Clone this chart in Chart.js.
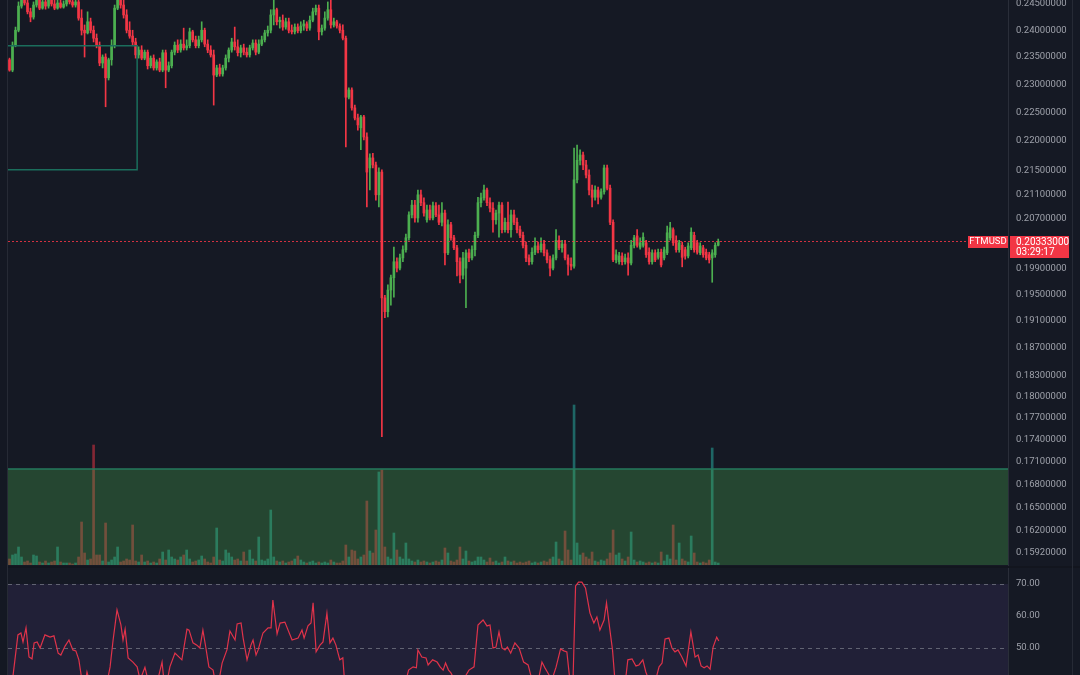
<!DOCTYPE html>
<html><head><meta charset="utf-8">
<script src="https://cdn.jsdelivr.net/npm/chart.js@4.4.1/dist/chart.umd.min.js"></script>
<style>
html,body{margin:0;padding:0;background:#151924;width:1080px;height:675px;overflow:hidden;font-family:Roboto,sans-serif;}
#main{position:absolute;left:0;top:0;width:1080px;height:566px;}
#rsi{position:absolute;left:0;top:568px;width:1080px;height:107px;}
.sep{position:absolute;left:0;top:566px;width:1080px;height:2px;background:#12151e;}
.lstrip{position:absolute;left:0;top:0;width:7px;height:675px;background:#141823;border-right:1px solid #262a35;}
.rline{position:absolute;left:1072px;top:0;width:1px;height:675px;background:#262a35;}
</style></head><body>
<div id="main"><canvas id="c1"></canvas></div>
<div class="sep"></div>
<div id="rsi"><canvas id="c2"></canvas></div>
<div class="lstrip"></div>
<div class="rline"></div>
<script>
// ---- data ----
const symbol = 'FTMUSD';
const lastPrice = 0.20333;
const countdown = '03:29:17';
const priceTicks = [0.245,0.24,0.235,0.23,0.225,0.22,0.215,0.211,0.207,0.199,0.195,0.191,0.187,0.183,0.18,0.177,0.174,0.171,0.168,0.165,0.162,0.1592];
const rsiTicks = [70,60,50];
const priceMin = 0.15769, priceMax = 0.24577;
const volumeMax = 565, volumeZoneTop = 96;
const boxStart = -0.5, boxEnd = 42.5, boxHigh = 0.2371, boxLow = 0.2151;
const rsiMin = 41.5625, rsiMax = 75, rsiUpper = 70, rsiMid = 50, rsiLower = 30;
const slotCount = 333;

const opens = [.2345,.2326,.2372,.2400,.2446,.2458,.2452,.2435,.2425,.2448,
.2462,.2442,.2454,.2446,.2464,.2450,.2442,.2452,.2444,.2450,
.2466,.2454,.2448,.2454,.2423,.2400,.2395,.2416,.2400,.2385,
.2372,.2339,.2350,.2312,.2345,.2372,.2442,.2458,.2448,.2429,
.2400,.2389,.2378,.2354,.2363,.2348,.2359,.2334,.2348,.2330,
.2341,.2326,.2358,.2326,.2334,.2359,.2372,.2363,.2374,.2367,
.2371,.2397,.2382,.2371,.2382,.2400,.2374,.2363,.2354,.2317,
.2330,.2319,.2330,.2348,.2363,.2378,.2369,.2358,.2367,.2359,
.2354,.2367,.2376,.2359,.2374,.2382,.2395,.2400,.2429,.2439,
.2416,.2419,.2406,.2416,.2400,.2397,.2406,.2399,.2408,.2412,
.2404,.2419,.2435,.2442,.2397,.2404,.2423,.2439,.2410,.2416,
.2408,.2400,.2385,.2277,.2290,.2258,.2240,.2223,.2242,.2207,
.2154,.2171,.2159,.2109,.2147,.1945,.1924,.1957,.1976,.2001,
.1991,.2007,.2020,.2039,.2076,.2092,.2071,.2109,.2096,.2068,
.2084,.2071,.2091,.2076,.2064,.2079,.2015,.2060,.2039,.2023,
.2001,.1980,.1991,.2015,.2007,.2020,.2043,.2096,.2104,.2117,
.2096,.2087,.2068,.2079,.2092,.2052,.2064,.2052,.2076,.2064,
.2052,.2043,.2027,.2007,.2001,.2016,.2026,.2020,.2029,.2015,
.2004,.1991,.2007,.2035,.2023,.2029,.2007,.1997,.1994,.2134,
.2167,.2176,.2159,.2142,.2117,.2105,.2117,.2105,.2114,.2154,
.2120,.2064,.2004,.2001,.2010,.2001,.2007,.1999,.2027,.2042,
.2024,.2027,.2031,.2016,.2001,.2015,.2008,.2016,.2007,.2015,
.2039,.2052,.2035,.2020,.2027,.2020,.2010,.2023,.2043,.2031,
.2015,.2023,.2016,.2012,.2007,.2012,.2027];

const highs = [.2348,.2378,.2406,.2454,.2467,.2469,.2462,.2442,.2454,.2473,
.2469,.2464,.2466,.2473,.2473,.2458,.2458,.2458,.2456,.2473,
.2473,.2462,.2462,.2458,.2439,.2410,.2435,.2423,.2408,.2393,
.2378,.2354,.2356,.2348,.2382,.2448,.2469,.2469,.2462,.2439,
.2416,.2400,.2385,.2369,.2371,.2363,.2363,.2352,.2354,.2345,
.2348,.2363,.2363,.2341,.2363,.2378,.2382,.2382,.2404,.2382,
.2404,.2400,.2389,.2389,.2416,.2404,.2382,.2371,.2363,.2335,
.2337,.2335,.2354,.2367,.2385,.2406,.2382,.2372,.2374,.2367,
.2372,.2382,.2382,.2382,.2389,.2400,.2408,.2439,.2458,.2442,
.2425,.2429,.2423,.2423,.2410,.2412,.2412,.2416,.2419,.2416,
.2427,.2442,.2448,.2448,.2410,.2435,.2454,.2458,.2423,.2419,
.2412,.2410,.2389,.2294,.2294,.2263,.2247,.2245,.2245,.2214,
.2178,.2179,.2164,.2154,.2151,.1949,.1965,.1980,.2024,.2007,
.2013,.2026,.2045,.2081,.2100,.2100,.2117,.2117,.2104,.2092,
.2092,.2097,.2096,.2092,.2096,.2084,.2068,.2064,.2043,.2027,
.2007,.2016,.2020,.2021,.2026,.2048,.2105,.2112,.2125,.2120,
.2104,.2096,.2084,.2097,.2096,.2071,.2097,.2084,.2084,.2071,
.2058,.2048,.2032,.2012,.2023,.2039,.2032,.2039,.2035,.2020,
.2010,.2012,.2052,.2042,.2035,.2035,.2012,.2007,.2188,.2193,
.2185,.2181,.2167,.2151,.2125,.2124,.2122,.2119,.2159,.2159,
.2125,.2068,.2020,.2016,.2015,.2013,.2015,.2035,.2043,.2052,
.2039,.2047,.2035,.2023,.2020,.2020,.2021,.2021,.2024,.2058,
.2064,.2055,.2042,.2035,.2032,.2024,.2031,.2055,.2048,.2035,
.2031,.2027,.2021,.2016,.2020,.2031,.2037];

const lows = [.2324,.2323,.2369,.2397,.2442,.2448,.2431,.2416,.2421,.2444,
.2439,.2440,.2440,.2442,.2446,.2439,.2440,.2442,.2442,.2446,
.2450,.2444,.2444,.2419,.2391,.2350,.2393,.2395,.2378,.2367,
.2334,.2330,.2260,.2308,.2335,.2367,.2439,.2442,.2423,.2395,
.2385,.2372,.2348,.2348,.2345,.2345,.2328,.2330,.2326,.2326,
.2323,.2323,.2294,.2323,.2330,.2354,.2358,.2359,.2363,.2363,
.2367,.2378,.2367,.2367,.2378,.2369,.2358,.2350,.2263,.2314,
.2315,.2315,.2326,.2341,.2359,.2363,.2352,.2350,.2354,.2350,
.2350,.2363,.2354,.2356,.2371,.2378,.2389,.2395,.2410,.2410,
.2404,.2400,.2402,.2395,.2393,.2393,.2395,.2395,.2400,.2399,
.2400,.2416,.2429,.2382,.2391,.2400,.2419,.2404,.2406,.2404,
.2395,.2382,.2190,.2274,.2254,.2237,.2219,.2185,.2202,.2089,
.2117,.2154,.2100,.2089,.1744,.1915,.1916,.1934,.1946,.1985,
.1988,.2001,.2016,.2035,.2071,.2064,.2064,.2091,.2074,.2064,
.2068,.2068,.2073,.2060,.2058,.1996,.2012,.2035,.2020,.1979,
.1968,.1974,.1930,.2001,.2004,.2010,.2039,.2089,.2100,.2091,
.2081,.2048,.2061,.2040,.2047,.2048,.2047,.2040,.2060,.2047,
.2039,.2023,.2001,.1996,.1997,.2012,.2015,.2016,.2010,.1999,
.1979,.1988,.2004,.2020,.2016,.2004,.1980,.1988,.1991,.2129,
.2159,.2151,.2137,.2109,.2089,.2100,.2094,.2102,.2110,.2117,
.2060,.2001,.1999,.1997,.1996,.1997,.1980,.1996,.2023,.2024,
.2021,.2024,.2008,.1997,.1997,.2001,.2005,.1993,.2004,.2012,
.2035,.2027,.2016,.2016,.1993,.2005,.2007,.2020,.2016,.2013,
.2012,.2008,.2004,.1999,.1969,.2008,.2026];

const closes = [.2326,.2372,.2400,.2446,.2458,.2452,.2435,.2425,.2448,.2462,
.2442,.2454,.2446,.2464,.2450,.2442,.2452,.2444,.2450,.2466,
.2454,.2448,.2454,.2423,.2400,.2395,.2416,.2400,.2385,.2372,
.2339,.2350,.2312,.2345,.2372,.2442,.2458,.2448,.2429,.2400,
.2389,.2378,.2354,.2363,.2348,.2359,.2334,.2348,.2330,.2341,
.2326,.2358,.2326,.2334,.2359,.2372,.2363,.2374,.2367,.2371,
.2397,.2382,.2371,.2382,.2400,.2374,.2363,.2354,.2317,.2330,
.2319,.2330,.2348,.2363,.2378,.2369,.2358,.2367,.2359,.2354,
.2367,.2376,.2359,.2374,.2382,.2395,.2400,.2429,.2439,.2416,
.2419,.2406,.2416,.2400,.2397,.2406,.2399,.2408,.2412,.2404,
.2419,.2435,.2442,.2397,.2404,.2423,.2439,.2410,.2416,.2408,
.2400,.2385,.2277,.2290,.2258,.2240,.2228,.2242,.2207,.2147,
.2171,.2159,.2109,.2147,.1945,.1924,.1957,.1976,.2001,.1991,
.2007,.2020,.2039,.2076,.2092,.2071,.2109,.2096,.2079,.2084,
.2071,.2091,.2076,.2064,.2079,.2015,.2060,.2039,.2023,.2001,
.1980,.2007,.2015,.2007,.2020,.2043,.2096,.2104,.2117,.2096,
.2087,.2068,.2079,.2092,.2052,.2064,.2052,.2076,.2064,.2052,
.2043,.2027,.2007,.2001,.2016,.2026,.2020,.2029,.2015,.2004,
.1991,.2007,.2035,.2023,.2029,.2007,.1997,.1994,.2134,.2167,
.2176,.2159,.2142,.2117,.2105,.2117,.2105,.2114,.2154,.2120,
.2064,.2004,.2012,.2010,.2001,.2007,.1999,.2027,.2039,.2027,
.2031,.2040,.2012,.2001,.2015,.2004,.2016,.1996,.2020,.2047,
.2055,.2031,.2020,.2031,.2008,.2010,.2026,.2048,.2020,.2016,
.2026,.2012,.2007,.2004,.2015,.2027,.20333];

// volume in thousands
const volumes = [6,10,11,18,8,3,4,2,10,9,
3,2,4,2,3,4,18,3,2,2,
2,1,2,8,43,12,5,6,120,10,
10,4,42,3,5,8,18,3,4,6,
5,40,4,3,10,3,4,2,3,2,
6,13,5,15,8,6,5,8,10,15,
6,3,4,5,9,6,3,2,8,37,
5,4,15,12,8,5,6,4,13,4,
15,6,4,28,5,4,6,55,8,4,
3,4,2,3,4,6,9,5,3,2,
3,4,2,3,2,3,2,5,3,2,
2,4,20,8,15,14,6,8,10,64,
14,12,35,93,95,18,8,6,32,15,
8,6,22,6,4,3,5,3,4,3,
2,3,4,3,5,17,12,4,3,5,
18,6,14,4,3,4,8,8,5,3,
7,3,4,2,3,8,4,3,4,2,
3,2,3,4,2,3,2,3,4,3,
6,8,23,6,4,34,15,5,160,22,
10,12,8,6,13,4,3,5,4,6,
12,35,10,12,6,4,8,33,5,3,
4,3,2,3,2,3,2,13,4,10,
6,40,5,22,6,4,3,29,12,3,
2,3,2,5,117,3,2];

const rsiIndex = [1,2.8,3.8,4.5,5.5,6.5,7.5,8.2,9.2,10.2,11.8,13.5,14.8,16.2,17.1,18.5,19.8,21.1,22.1,23.1,24.1,25,25.8,26.8,28.5,30.1,31.8,33.5,34.5,35.8,37.1,37.8,38.5,39.5,41.1,42.5,43.5,45.1,46.1,47.5,49.1,50.8,51.4,52.4,53.4,55.1,57.4,59.1,59.8,61.1,62.4,63.4,64.4,65.4,66.4,67.8,68.8,69.8,70.8,72.4,73.4,75.1,75.8,77.1,77.8,79.1,80.4,81.1,82.1,82.8,84.4,86.1,87.1,87.7,89.1,90.1,91.7,94.1,96.1,97.4,98.1,99.4,100.4,101.1,102.1,103.4,104.4,105.7,106.7,107.7,108.7,110,111,111.7,112.7,114,116,118,120,122,124,125,127,129,131,132.9,134.4,135.5,136,137.3,138.7,139.4,140.9,142.4,143.4,144.4,145.2,146.2,147,149.4,151.7,153,154.7,156,157.7,159,160,161,162,163,164,165,165.8,166.9,168.3,169.7,171.2,172.7,174,175.7,177.3,178.3,179.1,180.6,182,183.5,184.6,185.6,186.6,187.6,188.5,189.5,190.6,191.8,193.3,194.6,195.6,196.6,198,198.8,199.8,200.8,201.6,202.6,203.9,204.9,205.9,207.3,208.6,209.6,210.9,211.9,213.3,214.6,216.3,217.3,218.3,219.6,220.6,221.6,222.6,223.9,225.3,226.9,228.3,229.3,230.3,231.3,232.3,233.3,234.3,235.5,236.2];
const rsiValues = [40,54.1,54.7,51.9,56.3,47.2,46.6,51.6,51.9,50,54.1,53.4,53.8,48.4,47.8,50.6,52.5,49.4,49.1,46.3,40,38,42.5,39,37,34,36,44.1,52.5,61.9,57.2,52.5,55.9,46.9,45.6,44.1,40,44,40,38,39,45.6,40,39,44.1,48.4,46.3,55.9,55.6,51.6,50.9,50,55.6,50,44.1,43.1,38,40,45.3,49.4,55.3,52.5,57.5,57.8,53.1,46.3,50.9,52.5,47.8,49.4,54.7,56.3,56.3,65,54.4,57.8,58.1,52.5,53.1,55.6,53.1,56.9,57.8,64.1,48.8,50.9,51.9,60.9,51.6,53.1,50.9,46.3,46.9,38,30,26,24,25,20,18,14,18,24,30,36,43.1,44.1,43.8,49.4,47.2,46.9,44.7,46.3,45.6,44.1,43.1,45.3,43.1,42.2,38,41,43.1,44.1,57.2,58.75,56.9,57.2,50,50.3,55,50,49.4,50.3,48.4,51.6,50,45.6,44.7,40,38,45.6,43.8,42.5,40,44,49.7,49.1,48.8,40,38,69.4,70.6,70.6,68.75,60.9,57.8,59.7,55.6,58.75,64.1,56.6,49.4,40,36,36,38,46.3,46.6,44.4,44.7,46.3,42.5,39,38,44.1,45.3,52.8,53.1,50,48.8,49.4,47.2,44.4,55,47.2,47.8,44.4,43.8,44.4,43.4,50.3,53.4,52.2];

const slots = Array.from({length: slotCount}, (_, i) => String(i));

// ---- styles ----
const UP = '#4caf50', DOWN = '#f23645';
const VUP = 'rgba(38,166,154,0.55)', VDOWN = 'rgba(242,54,69,0.5)';
const AXIS_TXT = '#9ea1aa', BORDER = '#2a2e39';
const FONT = 'Roboto';

const isUp = closes.map((c, i) => c >= opens[i]);
const bodyData = opens.map((o, i) => [o, closes[i]]);
const wickData = lows.map((l, i) => [l, highs[i]]);

const overlayPlugin = {
  id: 'overlay',
  afterDatasetsDraw(chart) {
    const {ctx, chartArea: ca, scales} = chart;
    ctx.save();
    const yTop = scales.vol.getPixelForValue(volumeZoneTop);
    const yBot = scales.vol.getPixelForValue(0);
    ctx.fillStyle = 'rgba(76,175,80,0.30)';
    ctx.fillRect(ca.left, yTop, ca.right - ca.left, yBot - yTop);
    ctx.strokeStyle = '#247a5c';
    ctx.lineWidth = 1.5;
    ctx.beginPath(); ctx.moveTo(ca.left, yTop); ctx.lineTo(ca.right, yTop); ctx.stroke();
    const x1 = scales.x.getPixelForValue(boxStart), x2 = scales.x.getPixelForValue(boxEnd);
    const y1 = scales.y.getPixelForValue(boxHigh), y2 = scales.y.getPixelForValue(boxLow);
    ctx.strokeStyle = '#1b6e5c';
    ctx.lineWidth = 1.5;
    ctx.beginPath();
    ctx.moveTo(x1, y1); ctx.lineTo(x2, y1); ctx.lineTo(x2, y2); ctx.lineTo(x1, y2);
    ctx.stroke();
    ctx.restore();
  },
  afterDraw(chart) {
    const {ctx, chartArea: ca, scales} = chart;
    const y = Math.round(scales.y.getPixelForValue(lastPrice)) + 0.5;
    ctx.save();
    ctx.strokeStyle = 'rgba(242,54,69,0.85)';
    ctx.lineWidth = 1;
    ctx.setLineDash([2, 2]);
    ctx.beginPath(); ctx.moveTo(ca.left, y); ctx.lineTo(ca.right - 40, y); ctx.stroke();
    ctx.setLineDash([]);
    ctx.fillStyle = DOWN;
    ctx.fillRect(ca.right - 40, y - 5.5, 40, 12);
    ctx.fillStyle = '#ffffff';
    ctx.font = '9.5px ' + FONT;
    ctx.textAlign = 'center';
    ctx.textBaseline = 'middle';
    ctx.fillText(symbol, ca.right - 20, y + 0.5);
    ctx.fillStyle = DOWN;
    ctx.fillRect(ca.right + 2, y - 5.5, 59, 22);
    ctx.fillStyle = '#ffffff';
    ctx.font = '10px ' + FONT;
    ctx.textAlign = 'left';
    ctx.fillText(lastPrice.toFixed(8), ca.right + 8, y + 1);
    ctx.fillText(countdown, ca.right + 8, y + 11);
    ctx.restore();
  }
};

new Chart(document.getElementById('c1'), {
  type: 'bar',
  data: {
    labels: slots,
    datasets: [
      {label: 'body', data: bodyData, backgroundColor: isUp.map(u => u ? UP : DOWN), barThickness: 2, minBarLength: 1, grouped: false, yAxisID: 'y', order: 0},
      {label: 'wick', data: wickData, backgroundColor: isUp.map(u => u ? UP : DOWN), barThickness: 1, grouped: false, yAxisID: 'y', order: 1},
      {label: 'volume', data: volumes, backgroundColor: isUp.map(u => u ? VUP : VDOWN), barThickness: 2, grouped: false, yAxisID: 'vol', order: 2}
    ]
  },
  options: {
    responsive: true, maintainAspectRatio: false, animation: false, devicePixelRatio: 1, events: [],
    layout: {padding: {left: 8, right: 0, top: 0, bottom: 1}},
    plugins: {legend: {display: false}, tooltip: {enabled: false}},
    scales: {
      x: {type: 'category', display: false, offset: true},
      y: {
        type: 'logarithmic', position: 'right', min: priceMin, max: priceMax,
        grid: {display: false, drawTicks: false},
        border: {display: true, color: BORDER},
        afterBuildTicks(s) { s.ticks = priceTicks.map(v => ({value: v})); },
        afterFit(s) { s.width = 72; s.paddingTop = 0; s.paddingBottom = 0; },
        ticks: {autoSkip: false, padding: 8, color: AXIS_TXT, font: {family: FONT, size: 9.5}, callback: v => Number(v).toFixed(8)}
      },
      vol: {display: false, min: 0, max: volumeMax}
    }
  },
  plugins: [overlayPlugin]
});

const rsiPlugin = {
  id: 'rsiBand',
  beforeDatasetsDraw(chart) {
    const {ctx, chartArea: ca, scales} = chart;
    const yU = scales.y.getPixelForValue(rsiUpper);
    const yL = Math.min(scales.y.getPixelForValue(rsiLower), ca.bottom);
    const yM = scales.y.getPixelForValue(rsiMid);
    ctx.save();
    ctx.fillStyle = 'rgba(126,87,194,0.12)';
    ctx.fillRect(ca.left, yU, ca.right - ca.left, yL - yU);
    ctx.strokeStyle = 'rgba(120,123,134,0.75)';
    ctx.lineWidth = 1;
    ctx.setLineDash([4, 4]);
    [yU, yM].forEach(y => {
      const yy = Math.round(y) + 0.5;
      ctx.beginPath(); ctx.moveTo(ca.left, yy); ctx.lineTo(ca.right, yy); ctx.stroke();
    });
    ctx.restore();
  }
};

new Chart(document.getElementById('c2'), {
  type: 'line',
  data: {
    datasets: [{
      label: 'RSI',
      data: rsiIndex.map((x, i) => ({x: x, y: rsiValues[i]})),
      borderColor: '#e0334a', borderWidth: 1.2, pointRadius: 0, tension: 0
    }]
  },
  options: {
    responsive: true, maintainAspectRatio: false, animation: false, devicePixelRatio: 1, events: [],
    layout: {padding: {left: 8, right: 0, top: 0, bottom: 0}},
    plugins: {legend: {display: false}, tooltip: {enabled: false}},
    scales: {
      x: {type: 'linear', display: false, min: -0.5, max: slotCount - 0.5},
      y: {
        position: 'right', min: rsiMin, max: rsiMax,
        grid: {display: false, drawTicks: false},
        border: {display: true, color: BORDER},
        afterBuildTicks(s) { s.ticks = rsiTicks.map(v => ({value: v})); },
        afterFit(s) { s.width = 72; s.paddingTop = 0; s.paddingBottom = 0; },
        ticks: {autoSkip: false, padding: 8, color: AXIS_TXT, font: {family: FONT, size: 9.5}, callback: v => Number(v).toFixed(2)}
      }
    }
  },
  plugins: [rsiPlugin]
});
</script>
</body></html>
